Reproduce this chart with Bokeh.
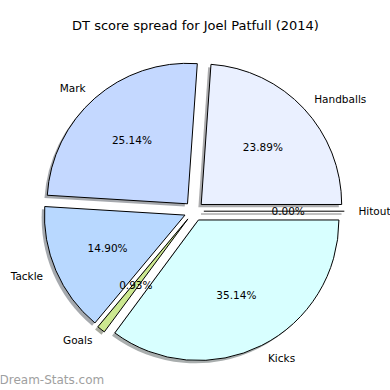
import numpy as np
from bokeh.plotting import figure
from bokeh.models import ColumnDataSource, Label, Range1d
from bokeh.core.properties import value
from bokeh.embed import file_html
from bokeh.resources import INLINE

# ---- data ----
categories = ["Handballs", "Mark", "Tackle", "Goals", "Kicks", "Hitout"]
percents = [23.89, 25.14, 14.90, 0.93, 35.14, 0.00]
slice_colors = ["#eaf0ff", "#c4d8ff", "#b8d8ff", "#cce890", "#d8ffff", "#f0f0f0"]
title_text = "DT score spread for Joel Patfull (2014)"
watermark = "Dream-Stats.com"

# ---- geometry (derived from data) ----
explode = 0.07
shadow_off = 0.02
vals = np.array(percents, dtype=float)
frac = vals / vals.sum()
ends = 2 * np.pi * np.cumsum(frac)
starts = ends - 2 * np.pi * frac
mids = (starts + ends) / 2
cx = explode * np.cos(mids)
cy = explode * np.sin(mids)

def shade(hexc):
    h = hexc.lstrip("#")
    r, g, b = (int(h[i:i + 2], 16) for i in (0, 2, 4))
    return "#%02x%02x%02x" % (int(r * 0.3), int(g * 0.3), int(b * 0.3))

shadow_colors = [shade(c) for c in slice_colors]

nz = vals > 0
z = ~nz

wsrc = ColumnDataSource(dict(
    x=cx[nz], y=cy[nz], sx=cx[nz] - shadow_off, sy=cy[nz] - shadow_off,
    start=starts[nz], end=ends[nz],
    color=[c for c, k in zip(slice_colors, nz) if k],
    scolor=[c for c, k in zip(shadow_colors, nz) if k],
))
zsrc = ColumnDataSource(dict(
    x0=cx[z], y0=cy[z], x1=cx[z] + np.cos(mids[z]), y1=cy[z] + np.sin(mids[z]),
    sx0=cx[z] - shadow_off, sy0=cy[z] - shadow_off,
    sx1=cx[z] + np.cos(mids[z]) - shadow_off, sy1=cy[z] + np.sin(mids[z]) - shadow_off,
    scolor=[c for c, k in zip(shadow_colors, z) if k],
))

W = H = 390
scale = 140.5
cpx, cpy = 193.5, 210.7  # pie centre in frame pixels (from top-left)

p = figure(width=W, height=H, output_backend="svg", toolbar_location=None,
           min_border=0, x_axis_type=None, y_axis_type=None,
           x_range=Range1d(-cpx / scale, (W - cpx) / scale),
           y_range=Range1d(-(H - cpy) / scale, cpy / scale))
p.outline_line_color = None
p.grid.visible = False
p.background_fill_color = "white"
p.border_fill_color = "white"

# shadows
p.wedge(x="sx", y="sy", radius=1, start_angle="start", end_angle="end",
        fill_color="scolor", fill_alpha=0.45, line_color=None, source=wsrc)
p.segment(x0="sx0", y0="sy0", x1="sx1", y1="sy1", line_color="scolor",
          line_alpha=0.45, line_width=1.5, source=zsrc)
# slices
p.wedge(x="x", y="y", radius=1, start_angle="start", end_angle="end",
        fill_color="color", line_color="black", line_width=1, source=wsrc)
p.segment(x0="x0", y0="y0", x1="x1", y1="y1", line_color="black",
          line_width=1, source=zsrc)

# labels
lsrc = ColumnDataSource(dict(
    x=cx + 1.1 * np.cos(mids), y=cy + 1.1 * np.sin(mids), text=categories,
    align=["left" if c > 0 else "right" for c in np.cos(mids)],
))
p.text(x="x", y="y", text="text", text_align="align", text_baseline="middle",
       text_font=value("DejaVu Sans"), text_font_size="10.5px", text_color="black",
       source=lsrc)
psrc = ColumnDataSource(dict(
    x=cx + 0.6 * np.cos(mids), y=cy + 0.6 * np.sin(mids),
    text=["%.2f%%" % v for v in percents],
))
p.text(x="x", y="y", text="text", text_align="center", text_baseline="middle",
       text_font=value("DejaVu Sans"), text_font_size="10.5px", text_color="black",
       source=psrc)

p.add_layout(Label(x=195, y=H - 25, x_units="screen", y_units="screen",
                   text=title_text, text_align="center", text_baseline="middle",
                   text_font="DejaVu Sans", text_font_size="13px", text_color="black"))
p.add_layout(Label(x=-1, y=4, x_units="screen", y_units="screen",
                   text=watermark, text_align="left", text_baseline="bottom",
                   text_font="DejaVu Sans", text_font_size="12px",
                   text_color="#a0a0a0"))

open("out.html", "w").write(file_html(p, INLINE))
